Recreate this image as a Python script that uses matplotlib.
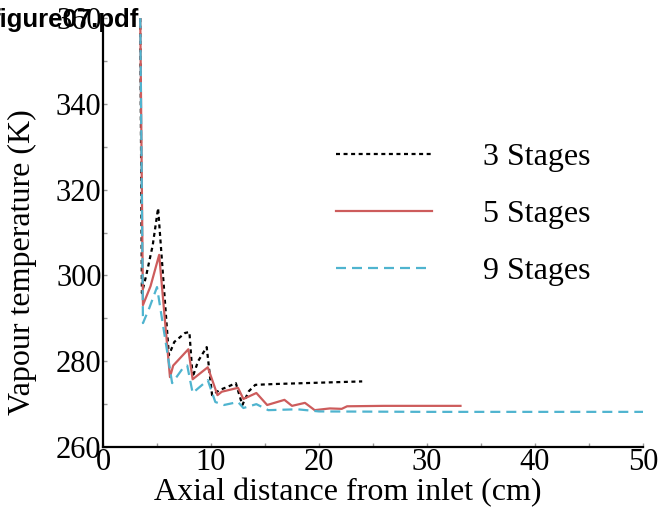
import matplotlib
matplotlib.use("Agg")
import matplotlib.pyplot as plt

# Axial positions (cm) and vapour temperatures (K) for each staging layout
x3 = [3.45, 3.6, 4.0, 4.6, 5.1, 6.1, 6.6, 7.6, 8.0, 8.3, 8.8, 9.6, 10.1, 10.8, 11.5, 12.3,
      12.9, 13.5, 14.1, 16.0, 20.0, 24.0]
t3 = [360.0, 295.9, 300.0, 307.0, 315.7, 281.4, 284.5, 286.6, 286.8, 276.3, 280.0, 283.3,
      272.1, 273.3, 274.0, 274.9, 269.8, 273.0, 274.5, 274.7, 275.0, 275.3]

x5 = [3.45, 3.7, 4.4, 5.2, 6.2, 6.5, 7.9, 8.3, 9.7, 10.6, 11.0, 12.5, 13.0, 14.2, 15.2,
      16.8, 17.5, 18.7, 19.6, 21.0, 22.1, 22.6, 26.0, 33.1]
t5 = [360.0, 293.1, 297.5, 304.8, 276.3, 279.0, 282.8, 275.8, 278.6, 272.1, 272.9,
      273.8, 271.2, 272.6, 269.8, 271.0, 269.6, 270.3, 268.6, 269.0, 268.9, 269.5, 269.6, 269.6]

x9 = [3.45, 3.7, 4.3, 5.0, 6.4, 7.4, 7.8, 8.3, 9.7, 10.4, 11.2, 12.5, 13.0, 14.2, 15.3,
      18.0, 20.0, 30.0, 50.0]
t9 = [360.0, 288.9, 292.5, 297.3, 274.9, 278.4, 279.0, 272.6, 275.6, 270.5, 269.8,
      270.5, 269.1, 270.0, 268.6, 268.8, 268.3, 268.2, 268.2]

labels = ["3 Stages", "5 Stages", "9 Stages"]
x_ticks = [0, 10, 20, 30, 40, 50]
y_ticks = [260, 280, 300, 320, 340, 360]

serif = ["Liberation Serif", "DejaVu Serif"]

fig = plt.figure(figsize=(6.62, 5.18), dpi=100)
ax = fig.add_axes([0.1556, 0.137, 0.8157, 0.828])

ax.plot(x3, t3, color="black", lw=1.6, ls=(0, (1.8, 1.6)), label=labels[0])
ax.plot(x5, t5, color="#cd5c5c", lw=1.6, ls="-", label=labels[1])
ax.plot(x9, t9, color="#4fb4cf", lw=1.6, ls=(0, (4.5, 2.7)), label=labels[2])

ax.set_xlim(0, 50)
ax.set_ylim(260, 360)
ax.set_xticks(x_ticks)
ax.set_yticks(y_ticks)
ax.set_xticks([5, 15, 25, 35, 45], minor=True)
ax.set_yticks([270, 290, 310, 330, 350], minor=True)
ax.tick_params(which="both", direction="in", length=3, width=1, color="#999999",
               labelsize=22, pad=1)
for lab in ax.get_xticklabels() + ax.get_yticklabels():
    lab.set_family(serif)

for side in ("top", "right"):
    ax.spines[side].set_visible(False)
for side in ("left", "bottom"):
    ax.spines[side].set_linewidth(1.6)

ax.set_xlabel("Axial distance from inlet (cm)", family=serif, fontsize=23)
ax.set_ylabel("Vapour temperature (K)", family=serif, fontsize=23)
ax.xaxis.set_label_coords(0.454, -0.072)
ax.yaxis.set_label_coords(-0.122, 0.431)

leg = ax.legend(loc="upper left", bbox_to_anchor=(0.431, 0.71), frameon=False,
                borderpad=0, borderaxespad=0,
                handlelength=3.0, handletextpad=1.6, labelspacing=0.87,
                prop={"family": serif, "size": 23})

fig.text(-0.013, 0.948, "figure07.pdf", family=["Liberation Sans", "DejaVu Sans"],
         fontweight="bold", fontsize=18.5, va="baseline", ha="left")

fig.savefig("out.png", dpi=100)
